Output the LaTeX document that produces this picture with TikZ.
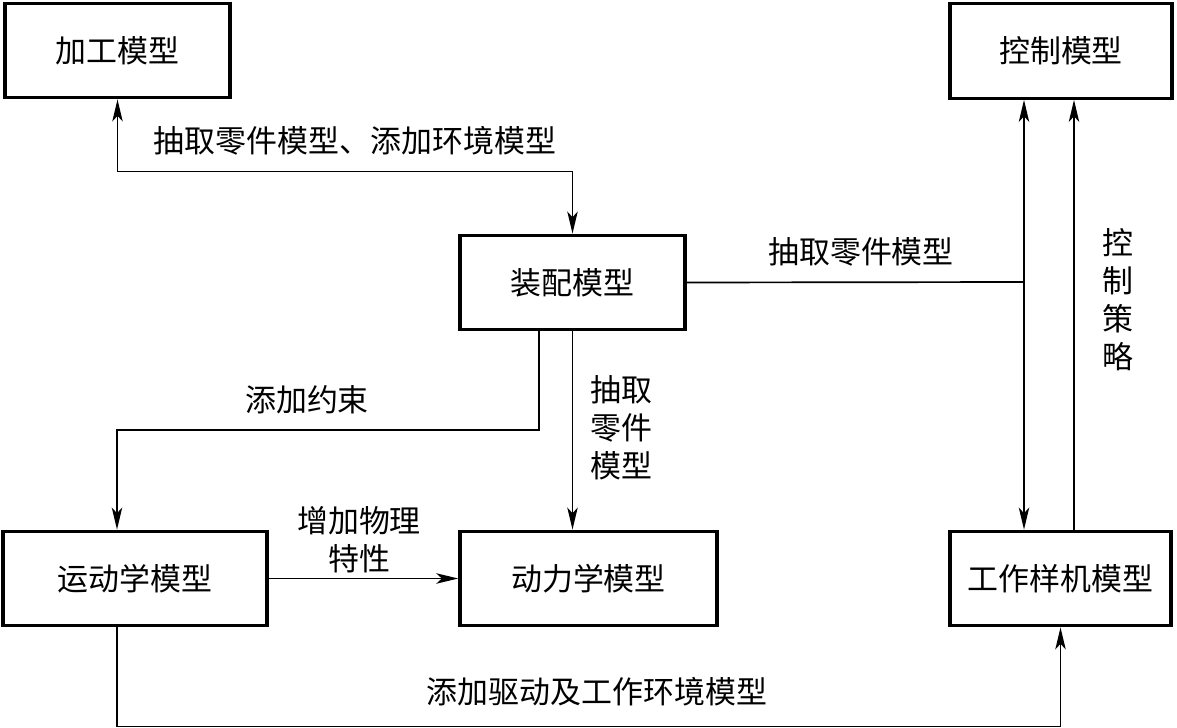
\documentclass[tikz,border=0pt]{standalone}
\usepackage{fontspec}
\setmainfont{Noto Sans CJK SC}
\usepackage{tikz}
\usetikzlibrary{arrows.meta, positioning}

\begin{document}
\begin{tikzpicture}[x=0.025cm, y=-0.025cm, auto, font=\fontsize{22pt}{27pt}\selectfont,
    >={Stealth[length=5.5mm, width=2.6mm, inset=1.4mm]}]
    % 样式
    \tikzstyle{block} = [rectangle, draw, line width=2.4pt, text centered, minimum height=2.36cm]
    \tikzstyle{note} = [align=center, inner sep=0pt]
    \tikzstyle{line} = [draw, ->, line width=1.2pt]

    \useasboundingbox (0,0) rectangle (1177,728);

    % 模型
    \node [block, minimum width=5.625cm] (jiagong) at (117.5,50.5) {加工模型};
    \node [block, minimum width=5.55cm] (kongzhi) at (1061,51) {控制模型};
    \node [block, minimum width=5.625cm] (zhuangpei) at (572.5,282.5) {装配模型};
    \node [block, minimum width=6.6cm] (yundong) at (135,578.5) {运动学模型};
    \node [block, minimum width=6.425cm] (dongli) at (588.5,578.5) {动力学模型};
    \node [block, minimum width=5.525cm] (yangji) at (1060.5,578.5) {工作样机模型};

    % 文字
    \node [note] (tiqu1) at (355,141) {抽取零件模型、添加环境模型};
    \node [note] (tiqu2) at (861,252) {抽取零件模型};
    \node [note] (celue) at (1118,300) {控\\制\\策\\略};
    \node [note] (yueshu) at (307,400) {添加约束};
    \node [note] (tiqu3) at (621,428) {抽取\\零件\\模型};
    \node [note] (wuli) at (359,540) {增加物理\\特性};
    \node [note] (qudong) at (597,692) {添加驱动及工作环境模型};

    \coordinate (tap) at (1024,282);
    \coordinate (ctrl) at (1074,300);
    \coordinate (split) at (539,430);

    % 箭头
    \path [line, <->] (jiagong.south) -- ++(0,72) -| (zhuangpei.north);
    \draw [line width=1.2pt] (zhuangpei.east) -- (tap);
    \path [line, <->] (tap |- kongzhi.south) -- (tap |- yangji.north);
    \path [line] (ctrl |- yangji.north) -- (ctrl |- kongzhi.south);
    \path [line] (split |- zhuangpei.south) -- (split) -| ([xshift=-0.45cm]yundong.north);
    \path [line] (zhuangpei.south) -- (zhuangpei.south |- dongli.north);
    \path [line] (yundong.east) -- (dongli.west);
    \path [line] ([xshift=-0.45cm]yundong.south) -- ++(0,99) -| (yangji.south);
\end{tikzpicture}
\end{document}
